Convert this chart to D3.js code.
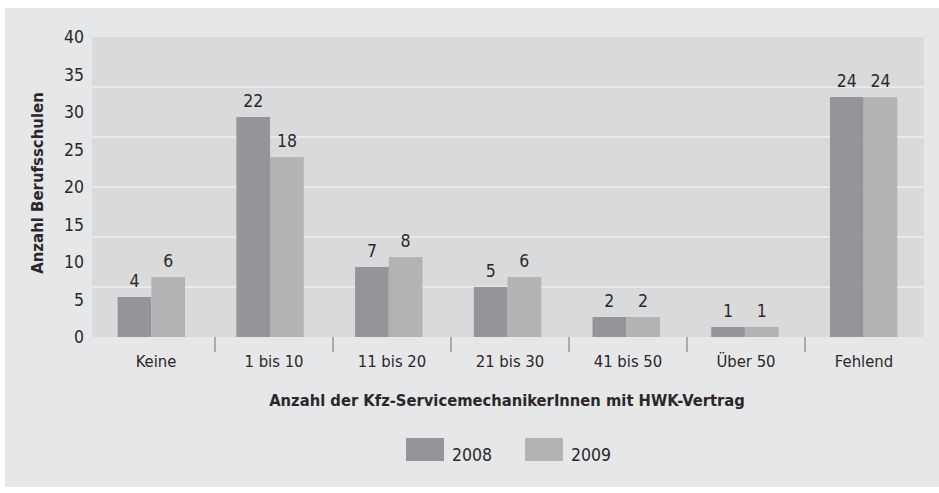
<!DOCTYPE html>
<html>
  <head>
    <meta charset="utf-8" />
    <title>Berufsschulen</title>
    <script src="https://d3js.org/d3.v7.min.js"></script>
    <style>
      body {
          margin: 0;
          background: #ffffff;
      }
      text {
          font-family: "DejaVu Sans Condensed", "DejaVu Sans", sans-serif;
          fill: #2b2829;
      }
    </style>
  </head>
  <body>

    <svg id="chart"></svg>

    <script>
        // data
        var categories = ["Keine", "1 bis 10", "11 bis 20", "21 bis 30", "41 bis 50", "Über 50", "Fehlend"];
        var series = ["2008", "2009"];
        var values2008 = [4, 22, 7, 5, 2, 1, 24];
        var values2009 = [6, 18, 8, 6, 2, 1, 24];
        // the printed axis runs 0..40 although the bars follow a 0..30 scale
        var axisTicks = [0, 5, 10, 15, 20, 25, 30, 35, 40];
        var gridValues = [5, 10, 15, 20, 25];

        var colors = {"2008": "#949599", "2009": "#b2b3b5"};

        var width = 939, height = 493;
        var plot = {left: 92, right: 924, top: 37, bottom: 337};

        var svg = d3.select("#chart")
          .attr("width", width)
          .attr("height", height);

        // outer panel
        svg.append("rect")
          .attr("x", 5).attr("y", 8)
          .attr("width", width - 5).attr("height", 479)
          .attr("fill", "#e6e7e8");

        svg.append("rect")
          .attr("x", plot.left).attr("y", plot.top)
          .attr("width", plot.right - plot.left)
          .attr("height", plot.bottom - plot.top)
          .attr("fill", "#d9dadc");

        var y = d3.scaleLinear()
          .domain([0, 30])
          .range([plot.bottom, plot.top]);

        var yLabel = d3.scaleLinear()
          .domain([0, 40])
          .range([plot.bottom, plot.top]);

        var x0 = d3.scaleBand()
          .domain(categories)
          .range([plot.left, 923]);

        var xAxisScale = d3.scaleBand()
          .domain(categories)
          .range([97, 923]);

        var x1 = d3.scaleBand()
          .domain(series)
          .range([0, 67.4]);

        // gridlines
        svg.append("g").selectAll("line")
          .data(gridValues)
          .enter().append("line")
          .attr("x1", plot.left).attr("x2", plot.right)
          .attr("y1", function(d) { return y(d); })
          .attr("y2", function(d) { return y(d); })
          .attr("stroke", "#eeeff0")
          .attr("stroke-width", 1.5);

        // y axis labels
        var yAxis = d3.axisLeft(yLabel)
          .tickValues(axisTicks)
          .tickSize(0)
          .tickPadding(0);

        var gy = svg.append("g")
          .attr("transform", "translate(84,0)")
          .call(yAxis);
        gy.select(".domain").remove();
        gy.selectAll("text")
          .attr("font-size", 17.5)
          .attr("fill", "#2b2829")
          .style("font-family", null);

        // bars
        var rows = categories.map(function(c, i) {
            return {cat: c, vals: [
              {s: "2008", v: values2008[i]},
              {s: "2009", v: values2009[i]}
            ]};
        });

        var groups = svg.append("g").selectAll("g")
          .data(rows)
          .enter().append("g")
          .attr("transform", function(d) {
              return "translate(" + (x0(d.cat) + (x0.bandwidth() - 67.4) / 2) + ",0)";
          });

        groups.selectAll("rect")
          .data(function(d) { return d.vals; })
          .enter().append("rect")
          .attr("x", function(d) { return x1(d.s); })
          .attr("width", x1.bandwidth())
          .attr("y", function(d) { return y(d.v); })
          .attr("height", function(d) { return y(0) - y(d.v); })
          .attr("fill", function(d) { return colors[d.s]; });

        groups.selectAll("text")
          .data(function(d) { return d.vals; })
          .enter().append("text")
          .attr("x", function(d) { return x1(d.s) + x1.bandwidth() / 2; })
          .attr("y", function(d) { return y(d.v) - 10.5; })
          .attr("text-anchor", "middle")
          .attr("font-size", 17.5)
          .text(function(d) { return d.v; });

        // x axis: separators and category labels
        var xAxis = d3.axisBottom(xAxisScale).tickSize(0).tickPadding(0);
        var gx = svg.append("g")
          .attr("transform", "translate(0," + plot.bottom + ")")
          .call(xAxis);
        gx.select(".domain").remove();
        gx.selectAll("text")
          .attr("dy", null)
          .attr("y", 30)
          .attr("font-size", 16.5)
          .attr("fill", "#2b2829")
          .style("font-family", null);

        gx.selectAll(".sep")
          .data(categories.slice(1))
          .enter().append("line")
          .attr("class", "sep")
          .attr("x1", function(d) { return xAxisScale(d); })
          .attr("x2", function(d) { return xAxisScale(d); })
          .attr("y1", 0).attr("y2", 15)
          .attr("stroke", "#6d6e71")
          .attr("stroke-width", 1);

        // axis titles
        svg.append("text")
          .attr("x", 507).attr("y", 406)
          .attr("text-anchor", "middle")
          .attr("font-size", 16.4)
          .attr("font-weight", "bold")
          .text("Anzahl der Kfz-ServicemechanikerInnen mit HWK-Vertrag");

        svg.append("text")
          .attr("transform", "translate(43,183) rotate(-90)")
          .attr("text-anchor", "middle")
          .attr("font-size", 16.6)
          .attr("font-weight", "bold")
          .text("Anzahl Berufsschulen");

        // legend
        var legend = svg.append("g").selectAll("g")
          .data(series)
          .enter().append("g")
          .attr("transform", function(d, i) { return "translate(" + (406 + i * 119) + ",438)"; });

        legend.append("rect")
          .attr("width", 38).attr("height", 23)
          .attr("fill", function(d) { return colors[d]; });

        legend.append("text")
          .attr("x", 46).attr("y", 23)
          .attr("font-size", 17.5)
          .text(function(d) { return d; });
    </script>
  </body>
</html>
